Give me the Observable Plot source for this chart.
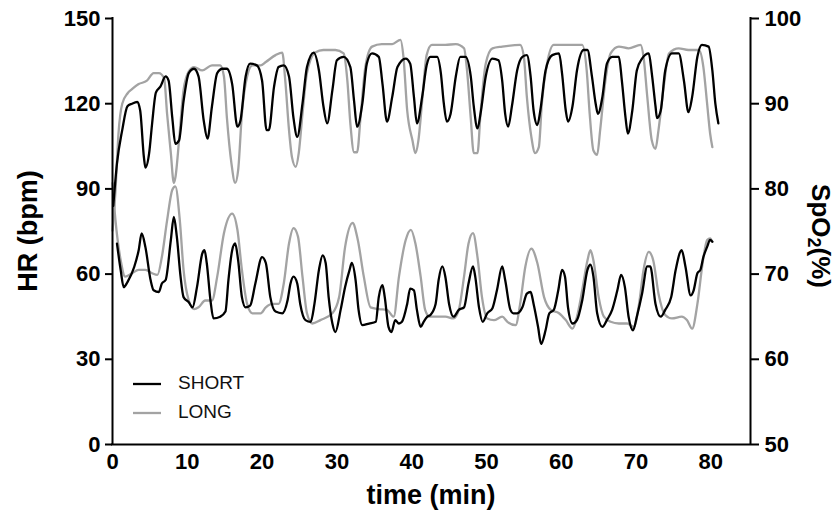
<!DOCTYPE html>
<html><head><meta charset="utf-8">
<script src="https://cdn.jsdelivr.net/npm/d3@7"></script>
<script src="https://cdn.jsdelivr.net/npm/@observablehq/plot@0.6"></script>
<style>
html,body{margin:0;padding:0;background:#fff}
#chart svg{display:block}
</style>
</head><body><div id="chart"></div>
<script>
// ---- data (time in min, value) ----
const shortSpO2 = [[0.1,78],[0.6,83],[1.3,86.9],[2,89.7],[2.6,90],[3.3,90.2],[3.7,89.2],[4.2,83.7],[4.4,82.5],[4.9,84.2],[5.3,87.7],[5.8,91.3],[6.4,92],[7.1,93.2],[7.5,92.7],[8,88.3],[8.4,85.3],[8.9,85.7],[9.5,90.3],[10.2,93.6],[10.9,94.1],[11.5,93.2],[12.2,88],[12.7,85.9],[13.3,89.7],[14,93.6],[14.7,94.1],[15.3,94.1],[16,92.3],[16.7,87.3],[17.1,88],[17.8,93.2],[18.4,94.7],[19.3,94.5],[20,92.7],[20.6,86.9],[20.9,86.9],[21.6,92],[22.2,94.3],[22.9,94.5],[23.6,93.2],[24.2,88.3],[24.7,86.1],[25.4,90],[26,94.3],[26.9,96],[27.6,93.9],[28.2,89.7],[28.7,87.7],[29.4,91.6],[30,95.1],[30.9,95.5],[31.8,94.3],[32.3,90.3],[32.7,87.3],[33.4,90],[34,94.7],[34.7,95.9],[35.6,95.5],[36.1,92.3],[36.7,87.9],[37.4,90.8],[38.1,94.3],[39.2,95.3],[39.8,94.7],[40.3,90.8],[40.7,87.7],[41.4,90.8],[42,94.5],[42.5,95.5],[43.4,95.5],[43.9,93.6],[44.3,90],[44.7,87.9],[45.2,88.8],[45.9,93.2],[46.5,95.5],[47.2,95.5],[47.9,93.2],[48.3,89.7],[48.8,87.1],[49.2,88.8],[49.9,93.2],[50.8,95.3],[51.6,95.1],[52.1,92.7],[52.5,88.8],[52.9,87.3],[53.4,89.7],[54.1,93.9],[54.8,95.5],[55.4,95.7],[55.9,93.2],[56.3,89.2],[56.8,87.5],[57.2,89.2],[57.9,93.9],[58.8,95.7],[59.7,95.9],[60.1,93.6],[60.6,89.2],[60.9,87.9],[61.5,89.7],[62.1,93.9],[63,96.3],[63.5,96.3],[64.1,93.2],[64.6,90],[64.9,88.8],[65.5,90.8],[66.1,94.7],[66.8,95.5],[67.7,95.5],[68.1,92.7],[68.6,88.3],[68.9,86.5],[69.5,89.2],[70.1,93.9],[70.8,95.3],[71.7,95.9],[72.1,93.6],[72.6,89.7],[72.8,88.3],[73.3,89.2],[73.9,93.9],[74.8,95.9],[75.7,95.9],[76.4,92.7],[77,89],[77.5,90.8],[78.2,95.5],[78.8,96.9],[79.7,96.7],[80.2,93.9],[80.6,90],[81,87.7]];

const longSpO2 = [[0,75.1],[0.4,79.8],[0.8,86.5],[1.3,90],[2,91.2],[2.6,91.7],[3.5,92.3],[4.6,92.7],[5.5,93.6],[6.2,93.6],[6.9,93],[7.3,88.8],[7.8,84.2],[8.2,80.7],[8.4,81.3],[8.9,85.7],[9.5,91.6],[10.2,93.8],[10.9,94.3],[12,93.9],[13.3,94.5],[14.4,94.5],[14.9,93.2],[15.3,88.3],[15.9,83],[16.4,80.7],[16.8,82.2],[17.3,88.8],[18,93.2],[18.7,94.5],[19.8,94.5],[20.5,94.9],[21.8,95.7],[22.7,96],[23.1,92.7],[23.6,86.9],[24,83.7],[24.5,82.6],[24.9,84.2],[25.4,88.8],[26,93.6],[27.1,96],[28.2,96.3],[29.8,96.3],[30.9,95.9],[31.4,92.7],[31.8,87.7],[32.3,84.3],[32.7,84.3],[33.2,88.8],[33.8,94.3],[34.7,96.7],[36,97],[37.4,97],[38.5,97.5],[38.9,95.5],[39.4,89.2],[40.1,85.7],[40.5,84.2],[40.9,85.7],[41.4,90.3],[42,95.7],[42.7,96.9],[44.5,96.9],[45.9,97],[47,96.5],[47.4,93.9],[47.9,88.3],[48.3,84.2],[48.8,84.2],[49.2,88.8],[49.9,94.7],[50.8,96.5],[52.1,96.7],[54.5,96.9],[55,95.5],[55.4,90.8],[56,86.1],[56.5,84.2],[57,84.9],[57.4,90],[58.1,94.7],[59,96.9],[60.6,96.9],[62.8,96.9],[63.4,93.9],[63.8,88.8],[64.3,84.5],[64.8,84],[65.2,86.9],[65.9,92.7],[66.6,95.9],[67.7,96.7],[69,96.5],[70.6,96.9],[71,95.5],[71.5,90.8],[72.1,85.7],[72.6,84.7],[73,86.9],[73.7,92],[74.4,95.9],[75.7,96.5],[77,96.3],[78.4,96.3],[79,94.3],[79.5,90],[79.9,86.5],[80.2,84.9]];

const shortHR = [[0.6,70.7],[1.1,61.3],[1.5,55.4],[2,57.2],[2.9,62.5],[3.5,68.4],[3.9,74.3],[4.4,69.5],[5.1,57.8],[5.5,54.3],[6.2,53.7],[6.6,56.7],[7.1,57.9],[7.8,72],[8.2,80.1],[8.6,73.2],[9.1,59.1],[9.5,51.9],[10.2,50.1],[10.7,48.3],[11.3,55.5],[12,67.2],[12.3,68.4],[12.6,63.9],[13.1,50.7],[13.5,44.4],[14.4,45],[15.1,46.8],[15.5,57.9],[16,68.4],[16.4,70.8],[16.8,64.8],[17.3,51.9],[17.8,48.3],[18.4,48.9],[19.1,56.7],[20,66],[20.5,63.9],[21.1,51.9],[21.8,46.8],[22.7,46.2],[23.4,50.7],[23.8,56.7],[24.2,59.1],[24.7,56.7],[25.1,49.5],[25.8,43.8],[26.5,43.2],[27,49.5],[27.6,61.5],[28.1,66.6],[28.5,63.9],[28.9,51.9],[29.4,42.6],[29.8,39.6],[30.5,47.4],[31.1,55.5],[31.7,61.5],[32,63.9],[32.5,57.9],[32.9,47.4],[33.4,42],[34.3,42.6],[35.2,43.2],[35.6,51.9],[36.1,56.1],[36.4,51.9],[36.9,41.4],[37.3,39.6],[37.8,43.8],[38.3,42.6],[38.7,43.2],[39.4,49.5],[39.8,54.9],[40.3,54.3],[40.7,47.4],[41.2,41.4],[41.6,43.2],[42.1,45],[42.5,45.6],[43.2,49.5],[43.6,57.9],[44.1,62.7],[44.5,59.1],[45,49.5],[45.6,45],[46.3,47.4],[47,48.3],[47.6,56.7],[48.2,62.7],[48.5,59.1],[49,48.3],[49.5,43.2],[50.1,46.2],[50.8,48],[51.4,54.3],[52.1,62.7],[52.5,57.9],[53.2,47.4],[53.6,46.2],[54.1,46.2],[54.8,48.3],[55.4,53.1],[55.9,53.7],[56.3,49.5],[56.9,41.4],[57.3,35.4],[57.9,40.2],[58.4,46.2],[59,47.4],[59.6,54.3],[60.1,61.5],[60.5,59.1],[60.9,48.3],[61.5,42.6],[62.1,43.8],[62.8,50.7],[63.5,61.5],[63.9,63.3],[64.3,59.1],[64.8,46.2],[65.5,41.4],[66.1,43.8],[66.8,47.4],[67.5,54.3],[68,59.7],[68.5,55.5],[69,45],[69.6,40.2],[70.1,45],[70.8,53.1],[71.5,62.7],[71.9,62.7],[72.6,49.5],[73.3,45],[73.9,47.4],[74.7,51.9],[75.3,61.5],[76.1,68.4],[76.6,62.7],[77.3,52.5],[77.7,54.3],[78.2,60.3],[78.6,61.5],[79,66],[79.5,69.6],[79.9,72],[80.2,71.4]];

const longHR = [[0,92],[0.4,78.9],[1.1,64.8],[1.7,59.1],[2.6,60.3],[3.5,61.5],[4.4,61.5],[5.3,60.3],[6,59.7],[6.6,66],[7.3,78.9],[8,89.7],[8.4,90.9],[9,78.9],[9.5,61.5],[10.2,50.7],[10.9,47.7],[11.5,48.3],[12.4,50.7],[13.3,50.7],[14,59.1],[14.9,74.4],[16,81.3],[16.7,75.6],[17.3,61.5],[18,49.5],[18.7,46.2],[19.8,46.2],[20.5,48.3],[21.4,49.5],[22.2,49.5],[22.9,56.7],[23.6,70.8],[24.2,76.2],[24.8,73.2],[25.4,59.1],[26,46.2],[26.7,42.6],[27.8,43.8],[29.4,46.2],[30.3,51.9],[31.1,69.6],[32.1,78],[32.8,72],[33.6,59.1],[34.5,48.3],[35.6,47.7],[36.7,47.4],[37.6,45],[38.3,59.1],[39.2,72],[39.9,75.6],[40.5,70.8],[41.2,59.1],[41.8,47.4],[42.4,45],[43.2,45],[44.5,45],[45.6,44.4],[46.3,47.4],[47,59.1],[47.6,70.8],[48.2,74.4],[48.8,66],[49.4,51.9],[50.1,44.4],[51,43.8],[52.1,45],[52.8,43.2],[53.9,42],[54.5,49.5],[55.2,62.7],[56,69],[56.8,63.9],[57.7,51.9],[58.6,47.4],[59.7,46.2],[60.6,43.8],[61.5,40.8],[62.1,45],[62.8,54.3],[63.5,64.8],[63.9,68.4],[64.3,64.8],[65,51.9],[65.7,45],[66.6,43.2],[67.7,42.6],[68.8,42.6],[69.7,41.4],[70.4,49.5],[71,61.5],[71.7,67.8],[72.3,64.8],[73,53.1],[73.9,45.6],[74.8,44.4],[76.1,45],[76.8,43.8],[77.5,40.8],[78.2,49.5],[78.9,63.9],[79.5,72],[79.9,72.6],[80.2,71.4]];

const hrTicks = [0, 30, 60, 90, 120, 150];
const spo2Ticks = [50, 60, 70, 80, 90, 100];
const timeTicks = [0, 10, 20, 30, 40, 50, 60, 70, 80];
const seriesNames = ["SHORT", "LONG"];
const seriesColors = ["#000000", "#a3a3a3"];

// ---- build ----
const xMax = 85.3;
const hrDomain = [0, 150];
const spo2Domain = [50, 100];
const spo2ToHr = d3.scaleLinear(spo2Domain, hrDomain);

const rows = [];
const add = (arr, name, kind, conv) => arr.forEach(([t, v]) => rows.push({t, v: conv(v), name, kind: name + "-" + kind}));
add(longSpO2, "LONG", "spo2", spo2ToHr);
add(longHR, "LONG", "hr", v => v);
add(shortSpO2, "SHORT", "spo2", spo2ToHr);
add(shortHR, "SHORT", "hr", v => v);

const FONT = "'Liberation Sans', Arial, sans-serif";
const axisFont = {fontSize: 22, fontWeight: "bold", fill: "#000"};

const chart = Plot.plot({
  width: 838, height: 515,
  marginLeft: 112, marginRight: 88, marginTop: 18, marginBottom: 71,
  style: {fontFamily: FONT, background: "#fff", color: "#000", overflow: "visible"},
  x: {domain: [0, xMax]},
  y: {domain: hrDomain},
  color: {domain: seriesNames, range: seriesColors},
  marks: [
    Plot.line(rows.filter(d => d.name === "LONG"), {x: "t", y: "v", z: "kind", stroke: "name", strokeWidth: 2.3, curve: "monotone-x"}),
    Plot.line(rows.filter(d => d.name === "SHORT"), {x: "t", y: "v", z: "kind", stroke: "name", strokeWidth: 2.3, curve: "monotone-x"}),
    Plot.axisY({ticks: hrTicks, tickSize: 7, tickPadding: 5, label: null, strokeWidth: 2, ...axisFont}),
    Plot.axisY({anchor: "right", ticks: spo2Ticks.map(spo2ToHr), tickFormat: d => Math.round(spo2ToHr.invert(d)), tickSize: 8, tickPadding: 6, label: null, strokeWidth: 2, ...axisFont}),
    Plot.axisX({ticks: timeTicks, tickSize: 0, tickPadding: 9, label: null, ...axisFont}),
    Plot.ruleX([0], {stroke: "#000", strokeWidth: 2, strokeLinecap: "square"}),
    Plot.ruleX([xMax], {stroke: "#000", strokeWidth: 2, strokeLinecap: "square"}),
    Plot.ruleY([0], {stroke: "#000", strokeWidth: 2, strokeLinecap: "square"})
  ]
});
document.getElementById("chart").append(chart);

// axis titles, right title with subscript, and legend
const svg = d3.select(chart);
const title = (x, y, rot, size) => svg.append("text")
  .attr("transform", `translate(${x},${y}) rotate(${rot})`)
  .attr("text-anchor", "middle").attr("dominant-baseline", "middle")
  .attr("font-size", size).attr("font-weight", "bold").attr("fill", "#000")
  .attr("font-family", FONT);
title(30, 231, -90, 27).text("HR (bpm)");
title(431, 497, 0, 27).text("time (min)");
const rt = title(819, 236, 90, 26);
rt.append("tspan").text("SpO");
rt.append("tspan").attr("font-size", 18).attr("dy", 6).text("2");
rt.append("tspan").attr("dy", -6).text("(%)");

const lg = svg.append("g").attr("font-family", FONT);
seriesNames.forEach((name, i) => {
  const y = 384 + i * 29;
  lg.append("line").attr("x1", 133).attr("x2", 161).attr("y1", y).attr("y2", y)
    .attr("stroke", seriesColors[i]).attr("stroke-width", 2.3);
  lg.append("text").attr("x", 178).attr("y", y).attr("text-anchor", "start").attr("dominant-baseline", "middle")
    .attr("font-size", 19).attr("fill", "#111").text(name);
});
</script>
</body></html>
